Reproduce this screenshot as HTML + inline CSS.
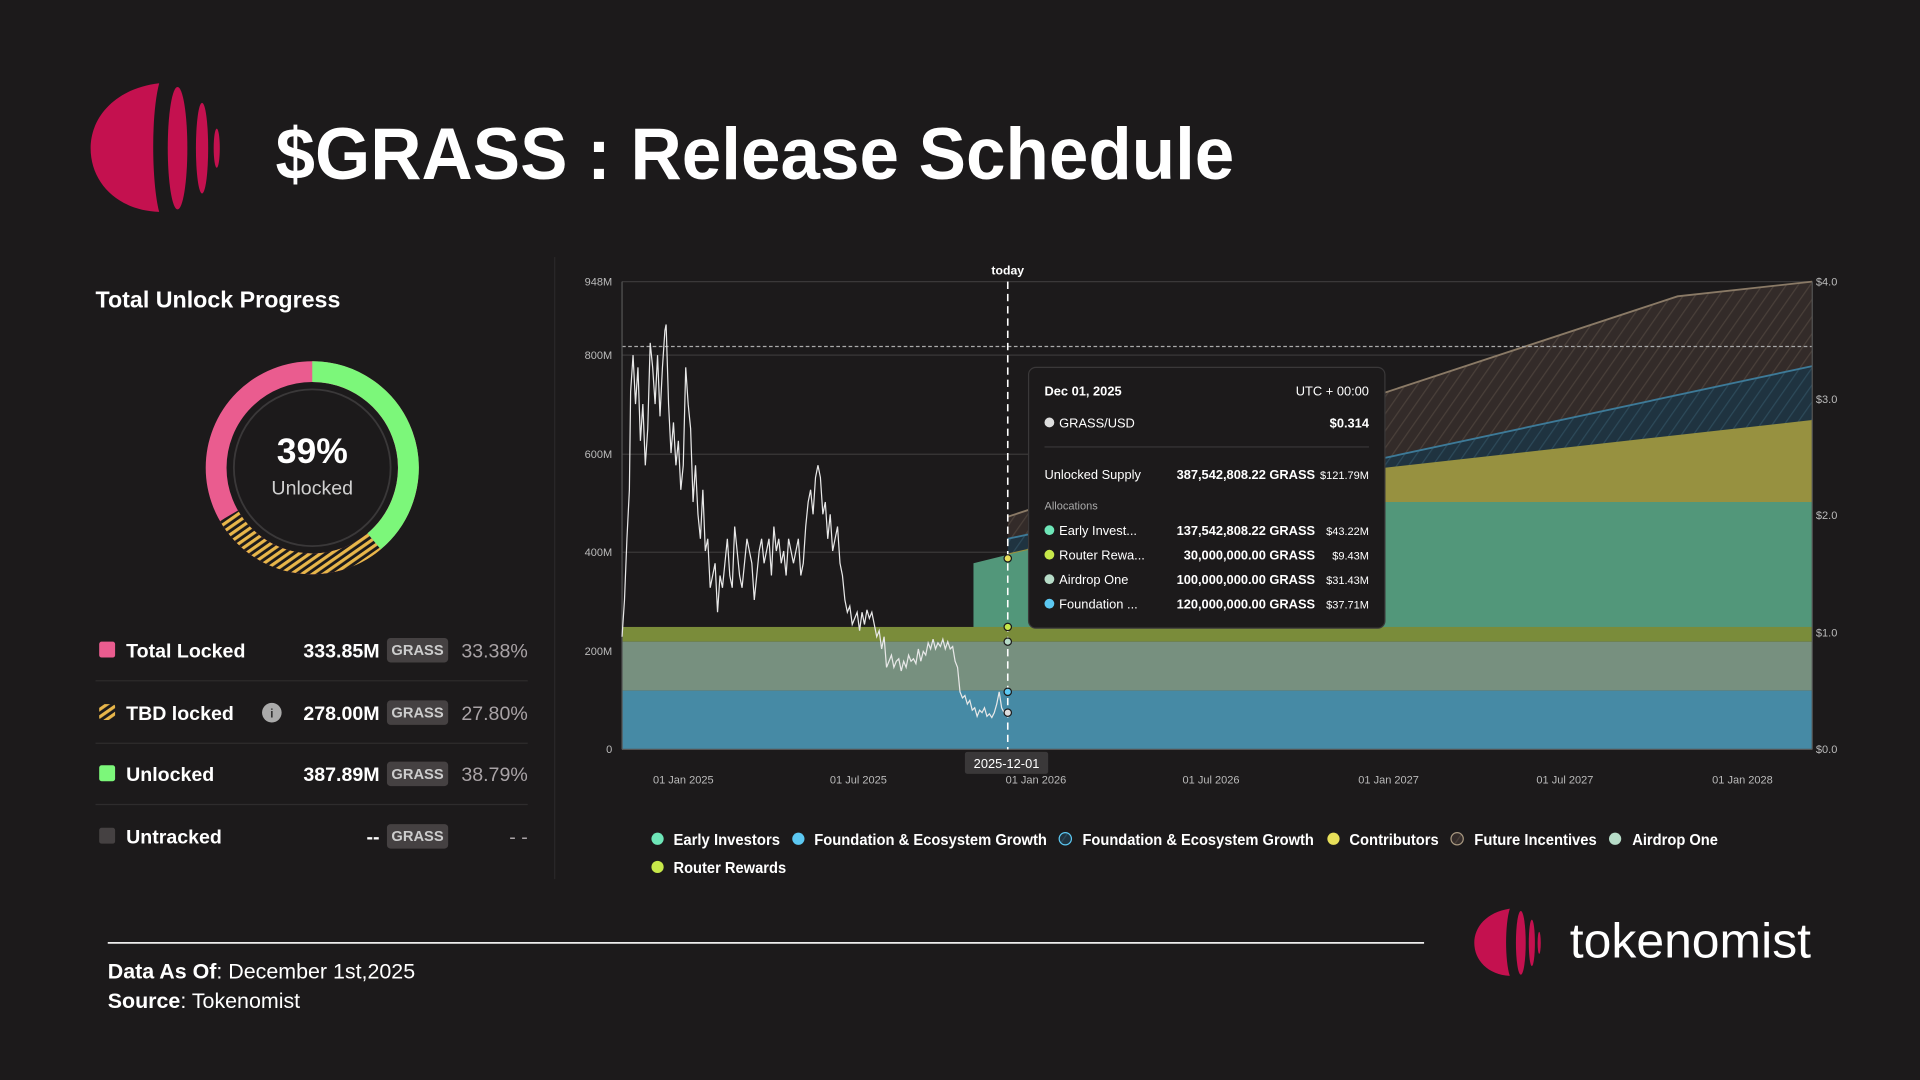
<!DOCTYPE html>
<html><head><meta charset="utf-8"><style>html,body{margin:0;padding:0;background:#1c1a1b;}svg{display:block}</style></head>
<body>
<svg width="1920" height="1080" viewBox="0 0 1568 882" xmlns="http://www.w3.org/2000/svg" font-family="Liberation Sans, sans-serif">
<defs>
<pattern id="hy" width="5" height="5" patternUnits="userSpaceOnUse" patternTransform="rotate(-35)"><rect width="5" height="5" fill="#1c1a1b"/><rect width="5" height="2.6" fill="#e8b64a"/></pattern>
<pattern id="hb" width="8" height="8" patternUnits="userSpaceOnUse" patternTransform="rotate(-55)"><rect width="8" height="8" fill="#1f3340"/><rect width="8" height="1" fill="#2d4a5a"/></pattern>
<pattern id="hf" width="8" height="8" patternUnits="userSpaceOnUse" patternTransform="rotate(-55)"><rect width="8" height="8" fill="#332b29"/><rect width="8" height="1" fill="#4a403a"/></pattern>
</defs>
<rect width="1568" height="882" fill="#1c1a1b"/>
<!-- logo -->
<g fill="#c4114f">
<path d="M130 68 C95 72 74 95 74 121 C74 150 97 172 130 173 C124 150 123 95 130 68Z"/>
<ellipse cx="145" cy="121" rx="8" ry="50"/>
<ellipse cx="165" cy="121" rx="5" ry="37"/>
<ellipse cx="177" cy="121" rx="2.5" ry="16"/>
</g>
<text x="225" y="146" font-size="60" font-weight="bold" fill="#fff" textLength="783" lengthAdjust="spacingAndGlyphs">$GRASS : Release Schedule</text>
<!-- left panel -->
<line x1="453" y1="210" x2="453" y2="718" stroke="#2a2829"/>
<text x="78" y="251" font-size="18.5" font-weight="bold" fill="#fff" textLength="200" lengthAdjust="spacingAndGlyphs">Total Unlock Progress</text>
<g transform="translate(255,382)">
<circle r="78.5" fill="none" stroke="#ea5c8f" stroke-width="17"/>
<path d="M0 -78.5 A78.5 78.5 0 0 1 50.5 60.1" fill="none" stroke="#7cf77a" stroke-width="17"/>
<path d="M50.5 60.1 A78.5 78.5 0 0 1 -68 39.2" fill="none" stroke="url(#hy)" stroke-width="17"/>
<circle r="64" fill="none" stroke="#3a3839" stroke-width="1.5"/>
<text y="-4" text-anchor="middle" font-size="29" font-weight="bold" fill="#fff">39%</text>
<text y="22" text-anchor="middle" font-size="16" fill="#d0d0d0">Unlocked</text>
</g>
<g font-size="16" font-weight="bold">
<rect x="81" y="524" width="13" height="13" rx="2" fill="#ea5c8f"/>
<text x="103" y="537" fill="#fff">Total Locked</text>
<text x="310" y="537" fill="#fff" text-anchor="end">333.85M</text>
<rect x="81" y="575" width="13" height="13" rx="2" fill="url(#hy)"/>
<text x="103" y="588" fill="#fff">TBD locked</text>
<circle cx="222" cy="582" r="8" fill="#aaa"/><text x="222" y="586" font-size="10" text-anchor="middle" fill="#333">i</text>
<text x="310" y="588" fill="#fff" text-anchor="end">278.00M</text>
<rect x="81" y="625" width="13" height="13" rx="2" fill="#7cf77a"/>
<text x="103" y="638" fill="#fff">Unlocked</text>
<text x="310" y="638" fill="#fff" text-anchor="end">387.89M</text>
<rect x="81" y="676" width="13" height="13" rx="2" fill="#454142"/>
<text x="103" y="689" fill="#fff">Untracked</text>
<text x="310" y="689" fill="#fff" text-anchor="end">--</text>
</g>
<g font-size="12" font-weight="bold" fill="#ccc" text-anchor="middle">
<rect x="316" y="521" width="50" height="20" rx="3" fill="#454142"/><text x="341" y="535">GRASS</text>
<rect x="316" y="572" width="50" height="20" rx="3" fill="#454142"/><text x="341" y="586">GRASS</text>
<rect x="316" y="622" width="50" height="20" rx="3" fill="#454142"/><text x="341" y="636">GRASS</text>
<rect x="316" y="673" width="50" height="20" rx="3" fill="#454142"/><text x="341" y="687">GRASS</text>
</g>
<g font-size="16" fill="#a9a3a6" text-anchor="end">
<text x="431" y="537">33.38%</text><text x="431" y="588">27.80%</text><text x="431" y="638">38.79%</text><text x="431" y="689">- -</text>
</g>
<g stroke="#2e2c2d"><line x1="78" y1="556" x2="431" y2="556"/><line x1="78" y1="607" x2="431" y2="607"/><line x1="78" y1="657" x2="431" y2="657"/></g>
<!-- chart -->
<g stroke="#3a3839" stroke-width="1">
<line x1="508" y1="230" x2="1480" y2="230"/><line x1="508" y1="290" x2="1480" y2="290"/><line x1="508" y1="371" x2="1480" y2="371"/><line x1="508" y1="451" x2="1480" y2="451"/><line x1="508" y1="532" x2="1480" y2="532"/>
</g>
<!-- TBD areas -->
<path d="M823 422 L1370 242 L1480 230 L1480 299 L823 440Z" fill="url(#hf)"/>
<polyline points="823,422 1370,242 1480,230" fill="none" stroke="#8a7a66" stroke-width="1.5"/>
<path d="M823 440 L1480 299 L1480 343 L823 452Z" fill="url(#hb)"/>
<polyline points="823,440 1480,299" fill="none" stroke="#3d7a98" stroke-width="1.5"/>
<path d="M823 452 L1131 382 L1480 343 L1480 410 L823 455Z" fill="#979140"/>
<path d="M795 460 L823 453 L1010 410 L1480 410 L1480 512 L795 512Z" fill="#52977a"/>
<rect x="508" y="512" width="972" height="12" fill="#7a8c3a"/>
<rect x="508" y="524" width="972" height="40" fill="#77907f"/>
<rect x="508" y="564" width="972" height="48" fill="#468aa5"/>
<line x1="508" y1="283" x2="1480" y2="283" stroke="#aaa" stroke-dasharray="3,2" stroke-width="1"/>
<line x1="508" y1="230" x2="508" y2="612" stroke="#555"/>
<line x1="1480" y1="230" x2="1480" y2="612" stroke="#555"/>
<line x1="508" y1="612" x2="1480" y2="612" stroke="#555"/>
<polyline fill="none" stroke="#e8e8e8" stroke-width="1" points="508,520 510,490 512,440 514,400 515,320 517,290 519,330 521,300 523,360 525,330 527,380 529,350 531,280 533,300 535,330 537,290 539,340 541,300 543,270 544,265 546,330 548,370 550,345 552,380 554,360 556,400 558,380 560,300 562,330 564,350 566,410 568,380 570,420 572,440 574,400 576,450 578,440 580,480 582,470 584,460 586,500 588,470 590,480 592,460 594,440 596,470 598,480 600,430 602,450 604,470 606,480 608,460 610,440 612,450 614,460 616,490 618,470 620,450 622,440 624,460 626,450 628,440 630,470 632,430 634,450 636,440 638,460 640,450 642,470 644,440 646,450 648,460 650,450 652,440 654,470 656,460 658,430 660,410 662,400 664,420 666,390 668,380 670,390 672,420 674,410 676,440 678,420 680,450 682,440 684,430 686,460 688,470 690,490 692,500 694,495 696,510 698,505 700,500 702,515 704,500 706,510 708,498 710,505 712,500 714,510 716,520 718,515 720,530 722,520 724,545 726,540 728,535 730,545 732,540 734,538 736,548 738,540 740,545 742,535 744,540 746,538 748,542 750,530 752,540 754,532 756,535 758,525 760,530 762,522 764,530 766,525 768,528 770,522 772,530 774,524 776,530 778,528 780,540 782,545 784,565 786,570 788,568 790,575 792,572 794,580 796,578 798,585 800,580 802,582 804,578 806,585 808,583 810,586 812,582 814,575 816,565 818,578 820,582 823,582"/>
<line x1="823" y1="230" x2="823" y2="612" stroke="#fff" stroke-width="1.3" stroke-dasharray="6,4"/>
<text x="823" y="224" font-size="10" font-weight="bold" fill="#fff" text-anchor="middle">today</text>
<g stroke="#1c1a1b" stroke-width="1">
<circle cx="823" cy="456" r="3" fill="#e8e05a"/><circle cx="823" cy="512" r="3" fill="#c7e84a"/><circle cx="823" cy="524" r="3" fill="#b7dcc8"/><circle cx="823" cy="565" r="3" fill="#5cc8f2"/><circle cx="823" cy="582" r="3" fill="#ddd"/>
</g>
<g font-size="9" fill="#bbb">
<text x="500" y="233" text-anchor="end">948M</text><text x="500" y="293" text-anchor="end">800M</text><text x="500" y="374" text-anchor="end">600M</text><text x="500" y="454" text-anchor="end">400M</text><text x="500" y="535" text-anchor="end">200M</text><text x="500" y="615" text-anchor="end">0</text>
<text x="1483" y="233">$4.0</text><text x="1483" y="329">$3.0</text><text x="1483" y="424">$2.0</text><text x="1483" y="520">$1.0</text><text x="1483" y="615">$0.0</text>
<text x="558" y="640" text-anchor="middle">01 Jan 2025</text><text x="701" y="640" text-anchor="middle">01 Jul 2025</text><text x="846" y="640" text-anchor="middle">01 Jan 2026</text><text x="989" y="640" text-anchor="middle">01 Jul 2026</text><text x="1134" y="640" text-anchor="middle">01 Jan 2027</text><text x="1278" y="640" text-anchor="middle">01 Jul 2027</text><text x="1423" y="640" text-anchor="middle">01 Jan 2028</text>
</g>
<rect x="788" y="614" width="68" height="18" rx="2" fill="#3a3839"/>
<text x="822" y="627" font-size="10.5" fill="#fff" text-anchor="middle">2025-12-01</text>
<!-- tooltip -->
<rect x="840" y="300" width="291" height="213" rx="6" fill="#1c1a1b" stroke="#3a3839"/>
<g font-size="10.5" fill="#fff">
<text x="853" y="323" font-weight="bold">Dec 01, 2025</text><text x="1118" y="323" text-anchor="end">UTC + 00:00</text>
<circle cx="857" cy="345" r="4" fill="#ddd"/><text x="865" y="349">GRASS/USD</text><text x="1118" y="349" text-anchor="end" font-weight="bold">$0.314</text>
<line x1="853" y1="365" x2="1118" y2="365" stroke="#3a3839"/>
<text x="853" y="391">Unlocked Supply</text><text x="1074" y="391" text-anchor="end" font-weight="bold">387,542,808.22 GRASS</text><text x="1118" y="391" text-anchor="end" font-size="9">$121.79M</text>
<text x="853" y="416" font-size="9" fill="#aaa">Allocations</text>
<circle cx="857" cy="433" r="4" fill="#6ee6b8"/><text x="865" y="437">Early Invest...</text><text x="1074" y="437" text-anchor="end" font-weight="bold">137,542,808.22 GRASS</text><text x="1118" y="437" text-anchor="end" font-size="9">$43.22M</text>
<circle cx="857" cy="453" r="4" fill="#c7e84a"/><text x="865" y="457">Router Rewa...</text><text x="1074" y="457" text-anchor="end" font-weight="bold">30,000,000.00 GRASS</text><text x="1118" y="457" text-anchor="end" font-size="9">$9.43M</text>
<circle cx="857" cy="473" r="4" fill="#b7dcc8"/><text x="865" y="477">Airdrop One</text><text x="1074" y="477" text-anchor="end" font-weight="bold">100,000,000.00 GRASS</text><text x="1118" y="477" text-anchor="end" font-size="9">$31.43M</text>
<circle cx="857" cy="493" r="4" fill="#5cc8f2"/><text x="865" y="497">Foundation ...</text><text x="1074" y="497" text-anchor="end" font-weight="bold">120,000,000.00 GRASS</text><text x="1118" y="497" text-anchor="end" font-size="9">$37.71M</text>
</g>
<!-- legend -->
<g font-size="12.5" font-weight="bold" fill="#fff">
<circle cx="537" cy="685" r="5" fill="#6ee6b8"/><text x="550" y="690" textLength="87" lengthAdjust="spacingAndGlyphs">Early Investors</text>
<circle cx="652" cy="685" r="5" fill="#5cc8f2"/><text x="665" y="690" textLength="190" lengthAdjust="spacingAndGlyphs">Foundation &amp; Ecosystem Growth</text>
<circle cx="870" cy="685" r="5" fill="url(#hb)" stroke="#5cc8f2" stroke-width="1"/><text x="884" y="690" textLength="189" lengthAdjust="spacingAndGlyphs">Foundation &amp; Ecosystem Growth</text>
<circle cx="1089" cy="685" r="5" fill="#e8e05a"/><text x="1102" y="690" textLength="73" lengthAdjust="spacingAndGlyphs">Contributors</text>
<circle cx="1190" cy="685" r="5" fill="url(#hf)" stroke="#a89880" stroke-width="1"/><text x="1204" y="690" textLength="100" lengthAdjust="spacingAndGlyphs">Future Incentives</text>
<circle cx="1319" cy="685" r="5" fill="#b7dcc8"/><text x="1333" y="690" textLength="70" lengthAdjust="spacingAndGlyphs">Airdrop One</text>
<circle cx="537" cy="708" r="5" fill="#c7e84a"/><text x="550" y="713" textLength="92" lengthAdjust="spacingAndGlyphs">Router Rewards</text>
</g>
<!-- footer -->
<line x1="88" y1="770" x2="1163" y2="770" stroke="#eee" stroke-width="1.5"/>
<text x="88" y="799" font-size="17.5" fill="#fff"><tspan font-weight="bold">Data As Of</tspan>: December 1st,2025</text>
<text x="88" y="823" font-size="17.5" fill="#fff"><tspan font-weight="bold">Source</tspan>: Tokenomist</text>
<g fill="#c4114f">
<path d="M1233 742 C1214 745 1204 757 1204 770 C1204 784 1215 796 1233 797 C1229 784 1229 755 1233 742Z"/>
<ellipse cx="1242" cy="770" rx="4" ry="26"/>
<ellipse cx="1251" cy="770" rx="2.5" ry="19"/>
<ellipse cx="1257" cy="770" rx="1.3" ry="9"/>
</g>
<text x="1282" y="782" font-size="40" fill="#fff" textLength="197" lengthAdjust="spacingAndGlyphs">tokenomist</text>
</svg>
</body></html>
